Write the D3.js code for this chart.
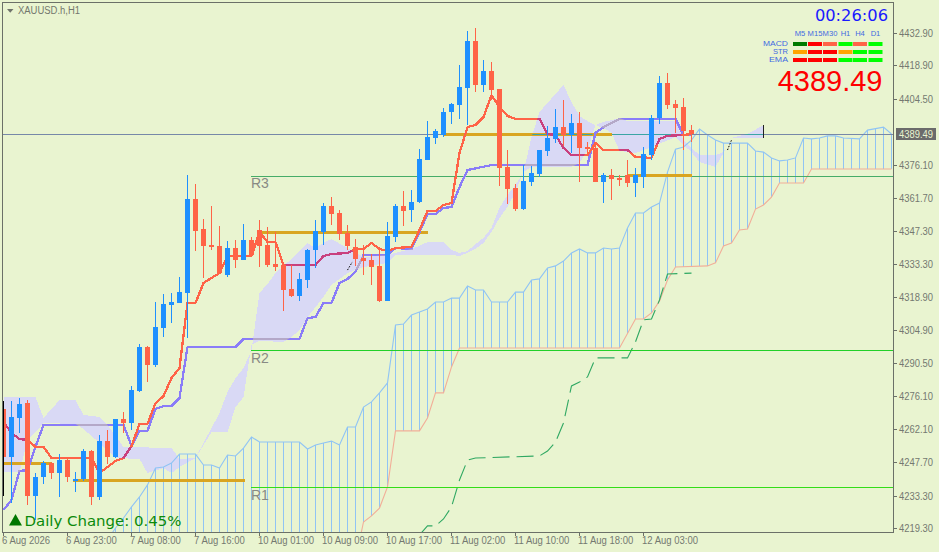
<!DOCTYPE html>
<html>
<head>
<meta charset="utf-8">
<script src="https://cdn.jsdelivr.net/npm/d3@7/dist/d3.min.js"></script>
<style>
html,body{margin:0;padding:0;background:#e9f4d0;overflow:hidden}
svg{display:block}
text{font-family:"Liberation Sans",Arial,sans-serif}
</style>
</head>
<body>
<svg id="c" width="939" height="552"></svg>
<script>
// ---- candles: [open, high, low, close], one per hourly bar ----
const candles = [
[4270.7,4274.1,4233.1,4249.9],[4249.9,4274.1,4230.1,4267.2],[4266.8,4275.4,4260.3,4272.8],[4273.2,4274.5,4229.2,4233.1],
[4233.1,4243.0,4222.8,4241.3],[4241.3,4248.2,4238.3,4247.3],[4247.3,4247.8,4240.5,4243.0],[4243.0,4251.2,4232.7,4248.6],
[4248.6,4249.5,4239.2,4241.3],[4239.6,4243.5,4234.8,4240.5],[4240.5,4253.4,4239.6,4252.5],[4252.5,4252.9,4229.2,4232.7],
[4232.7,4259.4,4231.4,4256.8],[4256.8,4261.6,4246.9,4249.9],[4249.9,4266.3,4249.5,4266.3],[4266.3,4269.4,4260.3,4264.6],
[4264.6,4280.6,4261.6,4278.9],[4278.4,4298.7,4278.0,4297.4],[4297.4,4297.8,4282.3,4289.6],[4289.6,4316.8,4288.8,4306.0],
[4305.6,4320.3,4301.7,4316.0],[4315.5,4320.7,4307.8,4316.8],[4316.4,4327.6,4316.4,4321.1],[4320.7,4371.6,4301.3,4361.3],
[4361.3,4367.7,4338.8,4347.5],[4348.3,4352.6,4327.2,4341.0],[4341.4,4358.2,4339.3,4340.6],[4341.0,4349.6,4329.3,4329.3],
[4328.5,4343.1,4327.6,4340.1],[4340.1,4343.6,4331.5,4334.9],[4334.9,4350.5,4334.9,4343.6],[4343.6,4344.9,4336.2,4337.1],
[4347.9,4352.2,4331.9,4341.0],[4341.4,4349.2,4331.9,4332.8],[4333.2,4347.0,4330.2,4331.9],[4332.8,4334.1,4312.9,4322.0],
[4322.4,4332.8,4319.0,4319.4],[4319.4,4329.3,4317.2,4326.8],[4326.3,4339.7,4322.9,4339.3],[4339.3,4352.2,4331.5,4347.5],
[4347.0,4359.5,4341.4,4358.2],[4358.2,4362.1,4350.0,4354.8],[4355.2,4356.5,4343.6,4346.2],[4346.6,4350.0,4339.3,4341.0],
[4340.6,4344.0,4332.4,4335.4],[4335.8,4341.4,4328.5,4334.5],[4334.9,4337.5,4324.2,4331.9],[4332.4,4340.6,4316.8,4317.2],
[4317.2,4351.3,4317.2,4345.3],[4344.9,4359.1,4342.7,4358.2],[4358.2,4364.7,4349.6,4356.1],[4356.5,4365.1,4351.3,4360.0],
[4360.0,4382.8,4359.5,4378.5],[4378.1,4394.9,4378.1,4388.0],[4387.6,4391.5,4385.0,4390.6],[4388.9,4400.5,4388.0,4398.8],
[4398.8,4402.7,4393.6,4402.3],[4401.8,4419.1,4395.8,4409.6],[4409.2,4433.8,4393.2,4429.4],[4429.4,4435.1,4407.4,4410.5],
[4410.5,4421.2,4407.4,4416.5],[4416.5,4420.4,4404.0,4408.3],[4408.7,4408.7,4366.9,4374.6],[4375.1,4382.4,4359.1,4365.6],
[4366.0,4367.7,4356.1,4356.9],[4356.9,4375.9,4356.5,4369.0],[4368.6,4375.5,4366.9,4372.5],[4372.0,4382.4,4370.8,4382.4],
[4382.0,4392.8,4379.8,4387.6],[4387.2,4400.1,4385.4,4392.3],[4392.3,4404.0,4384.1,4388.9],[4388.9,4397.9,4381.1,4394.1],
[4394.1,4398.8,4368.6,4383.3],[4383.7,4385.9,4380.2,4382.8],[4383.3,4385.9,4368.6,4368.6],[4368.6,4372.5,4359.5,4371.6],
[4371.6,4374.2,4360.8,4369.9],[4370.3,4371.6,4366.9,4369.5],[4371.6,4378.1,4366.4,4368.2],[4368.2,4374.6,4362.1,4371.6],
[4370.8,4383.7,4366.0,4380.7],[4380.2,4397.5,4378.1,4396.2],[4396.2,4414.4,4393.6,4411.3],[4411.3,4415.6,4400.1,4401.8],
[4402.3,4404.0,4389.8,4400.5],[4401.0,4404.9,4382.4,4390.6],[4391.0,4393.2,4385.9,4389.3]
];
// ---- indicator series: [bar number, price] ----
const fastLine = [[0,4265.0],[1,4260.3],[2,4257.7],[3,4257.3],[4,4254.3],[5,4254.3],[6,4249.5],[11,4249.5],[12,4243.0],[13,4245.6],[14,4248.2],[15,4249.5],[16,4254.7],[17,4264.2],[18,4264.2],[19,4273.2],[20,4276.2],[21,4284.0],[22,4288.3],[23,4316.4],[24,4316.4],[25,4325.0],[26,4327.2],[27,4329.3],[28,4336.7],[31,4336.7],[32,4347.0],[33,4342.7],[34,4342.7],[35,4332.8],[39,4332.8],[40,4336.7],[41,4337.5],[43,4338.0],[44,4339.7],[45,4339.7],[46,4342.3],[47,4339.7],[48,4338.8],[49,4340.1],[51,4340.6],[52,4347.9],[53,4356.1],[54,4356.1],[55,4358.7],[56,4359.5],[57,4381.1],[58,4392.3],[59,4393.2],[60,4396.6],[61,4406.1],[62,4401.0],[63,4397.1],[64,4395.8],[67,4395.8],[68,4389.3],[69,4388.9],[70,4383.3],[71,4380.2],[73,4380.2],[74,4385.4],[75,4382.4],[78,4382.4],[79,4379.4],[81,4379.0],[82,4387.2],[83,4388.5],[85,4388.9],[86,4389.3]];
const slowLine = [[0,4227.1],[1,4231.4],[2,4243.9],[3,4244.3],[4,4254.3],[5,4263.8],[15,4263.8],[16,4254.7],[17,4261.2],[18,4261.2],[19,4270.7],[20,4271.9],[21,4271.9],[22,4275.4],[23,4297.4],[29,4297.4],[30,4300.9],[37,4300.9],[38,4309.9],[39,4310.3],[40,4316.4],[41,4316.4],[42,4325.0],[43,4326.8],[44,4329.8],[45,4337.1],[48,4337.1],[49,4340.1],[51,4339.7],[52,4347.0],[53,4354.8],[54,4354.8],[55,4357.4],[56,4357.8],[57,4366.4],[58,4373.8],[61,4375.9],[73,4375.9],[74,4389.8],[75,4392.3],[77,4395.8],[84,4395.8],[85,4388.9],[86,4388.9]];
const bandUpper = [[0,4275.8],[4,4275.8],[5,4266.8],[7,4274.5],[9,4274.5],[10,4268.1],[12,4267.2],[13,4263.8],[15,4254.3],[21,4253.8],[22,4249.1],[24,4249.5],[25,4256.0],[27,4268.9],[28,4278.0],[29,4284.0],[30,4288.3],[31,4296.1],[32,4320.7],[33,4324.6],[34,4329.3],[35,4332.4],[36,4335.4],[37,4338.8],[38,4342.3],[39,4340.1],[40,4342.3],[41,4344.0],[43,4340.1],[45,4336.2],[48,4337.1],[49,4338.0],[51,4339.7],[52,4341.0],[53,4342.7],[55,4342.7],[56,4339.3],[57,4338.0],[58,4338.8],[59,4341.8],[60,4344.5],[61,4348.8],[62,4357.4],[63,4363.0],[64,4367.3],[65,4372.9],[66,4388.0],[67,4398.8],[70,4410.5],[71,4403.1],[72,4397.1],[73,4394.9],[74,4393.2],[75,4394.5],[77,4396.2],[78,4394.9],[84,4394.9],[85,4386.7],[86,4383.3],[87,4380.2],[89,4380.2],[90,4381.5],[91,4387.6],[92,4388.5],[93,4389.3],[95,4393.2]];
const bandLower = [[0,4243.5],[2,4243.5],[3,4257.3],[4,4260.7],[5,4264.6],[9,4264.2],[10,4262.0],[12,4256.0],[14,4249.5],[17,4249.1],[18,4243.0],[20,4245.2],[21,4243.0],[22,4245.6],[24,4249.5],[26,4260.7],[28,4260.7],[29,4271.5],[30,4275.8],[31,4298.3],[32,4300.0],[35,4299.6],[36,4301.7],[37,4304.7],[38,4310.3],[40,4319.0],[41,4324.2],[43,4329.3],[45,4331.9],[48,4333.7],[49,4337.1],[56,4337.1],[57,4336.7],[58,4338.0],[59,4339.7],[60,4342.3],[61,4347.0],[62,4353.1],[63,4357.8],[64,4364.3],[65,4372.9],[66,4375.1],[71,4375.1],[72,4376.8],[73,4382.4],[74,4393.2],[75,4391.9],[76,4389.8],[77,4382.0],[79,4381.1],[81,4383.7],[84,4388.0],[85,4384.6],[86,4381.5],[87,4377.2],[89,4375.1],[90,4381.1],[91,4387.6],[95,4387.6]];
const hatchUpper = [[13,4214.1],[14,4219.3],[15,4223.6],[16,4228.4],[17,4232.7],[18,4237.9],[19,4245.2],[20,4245.6],[21,4247.3],[22,4251.2],[24,4251.2],[25,4246.5],[26,4246.5],[27,4245.2],[28,4250.8],[29,4250.4],[30,4253.8],[31,4258.6],[32,4256.4],[37,4256.4],[38,4253.4],[39,4255.1],[40,4256.0],[41,4256.8],[42,4255.1],[43,4262.9],[44,4262.9],[45,4271.5],[46,4273.7],[47,4277.6],[48,4281.9],[49,4306.9],[50,4307.3],[51,4311.2],[52,4312.5],[53,4313.8],[54,4316.8],[55,4316.8],[56,4318.5],[57,4318.5],[58,4323.7],[59,4322.0],[60,4322.0],[61,4316.8],[63,4316.8],[64,4321.1],[65,4321.1],[66,4326.3],[67,4326.8],[68,4331.5],[69,4332.4],[70,4334.5],[71,4338.0],[72,4339.7],[73,4338.0],[74,4338.0],[75,4340.1],[76,4339.7],[77,4340.1],[78,4348.8],[79,4355.2],[80,4355.2],[81,4357.8],[82,4359.5],[83,4372.9],[84,4382.8],[85,4383.7],[86,4386.7],[87,4391.5],[88,4388.9],[89,4386.7],[90,4385.4],[93,4385.4],[94,4382.0],[95,4381.5],[96,4379.0],[97,4377.7],[98,4378.1],[99,4379.0],[100,4387.6],[101,4387.2],[102,4387.6],[103,4388.5],[104,4388.5],[105,4387.6],[107,4387.2],[108,4391.0],[110,4392.3],[111,4389.3]];
const hatchLower = [[13,4205.5],[44,4205.5],[45,4221.9],[46,4224.5],[47,4227.9],[48,4237.0],[49,4261.2],[52,4261.2],[53,4266.8],[54,4277.6],[55,4277.6],[56,4288.8],[57,4297.0],[77,4297.0],[79,4309.5],[80,4309.5],[81,4312.1],[82,4317.2],[83,4326.3],[84,4331.9],[88,4332.4],[89,4333.7],[90,4341.0],[91,4342.3],[92,4347.9],[93,4348.3],[94,4356.9],[95,4358.7],[96,4362.1],[97,4368.2],[100,4368.2],[101,4374.2],[111,4374.2]];
const laggingLine = [[52,4216.3],[53,4220.2],[54,4220.2],[55,4223.2],[56,4228.4],[57,4240.0],[58,4248.6],[59,4249.5],[67,4250.4],[68,4252.5],[69,4256.4],[70,4264.6],[71,4280.6],[72,4282.3],[73,4284.5],[74,4292.7],[78,4292.7],[79,4299.6],[80,4309.1],[81,4309.5],[82,4317.7],[83,4328.9],[86,4329.3]];
const blackSpecks = [[[43,4330.6],[43.6,4334.1]],[[90.5,4382.4],[91,4386.7]]];
// gold segments: [first bar, last bar, price]
const goldLevels = [[0,5.9,4247.3],[8.7,30.2,4240.0],[32,53,4347.0],[55,76,4389.3],[78,86,4371.6]];
const pivotNames = ["R3","R2","R1"];
const pivotPrices = [4371.4,4295.9,4236.8];
const currentPrice = 4389.49;
const priceTicks = [4432.90,4418.90,4404.50,4376.10,4361.70,4347.30,4333.30,4318.90,4304.90,4290.50,4276.10,4262.10,4247.70,4233.30,4219.30];
const timeLabels = ["6 Aug 2026","6 Aug 23:00","7 Aug 08:00","7 Aug 16:00","10 Aug 01:00","10 Aug 09:00","10 Aug 17:00","11 Aug 02:00","11 Aug 10:00","11 Aug 18:00","12 Aug 03:00"];
const panelFrames = ["M5","M15","M30","H1","H4","D1"];
const panelRows = ["MACD","STR","EMA"];
const panelStates = [
 ["darkup","down","weakdown","up","weakdown","up"],
 ["flat","down","down","flat","up","up"],
 ["down","down","down","up","up","up"]];
const symbolTitle = "XAUUSD.h,H1";
const countdown = "00:26:06";
const dailyChange = "Daily Change: 0.45%";

// ---- layout ----
const BG="#e9f4d0", FRAME="#6b7068", TICK="#747970";
const L=2.5, R=893.5, T=2.5, B=532.5;
const x=d3.scaleLinear().domain([0,1]).range([3.5,11.5]);
const y=d3.scaleLinear().domain([4432.9,4219.3]).range([33,528]);
const svg=d3.select("#c");
const defs=svg.append("defs");
defs.append("clipPath").attr("id","plot").append("rect").attr("x",3).attr("y",3).attr("width",890).attr("height",529);
const line=d3.line().x(d=>x(d[0])).y(d=>y(d[1]));
const bandPath=line(bandUpper.concat(bandLower.slice().reverse()))+"Z";
defs.append("clipPath").attr("id","band").append("path").attr("d",bandPath);
// squeeze a text to the width that the reference shows
function squeeze(sel,k){sel.each(function(){const w=this.getComputedTextLength();this.setAttribute("textLength",(w*k).toFixed(1));this.setAttribute("lengthAdjust","spacingAndGlyphs");});}

const plot=svg.append("g").attr("clip-path","url(#plot)");
// cloud
plot.append("path").attr("d",bandPath).attr("fill","#d9d9f5").attr("shape-rendering","crispEdges");
// hatch
const hU=d3.scaleLinear().domain(hatchUpper.map(d=>d[0])).range(hatchUpper.map(d=>d[1]));
const hL=d3.scaleLinear().domain(hatchLower.map(d=>d[0])).range(hatchLower.map(d=>d[1]));
plot.append("g").selectAll("line").data(d3.range(14,112)).join("line")
 .attr("x1",d=>x(d)).attr("x2",d=>x(d)).attr("y1",d=>y(hU(d))).attr("y2",d=>y(hL(d)))
 .attr("stroke","#90c4f4").attr("stroke-width",1).attr("shape-rendering","crispEdges");
plot.append("path").attr("d",line(hatchLower)).attr("fill","none").attr("stroke","#f2ae98").attr("stroke-width",1.1);
plot.append("path").attr("d",line(hatchUpper)).attr("fill","none").attr("stroke","#90c4f4").attr("stroke-width",1.1);
// lagging dashed
plot.append("path").attr("d",line(laggingLine)).attr("fill","none").attr("stroke","#2fa862").attr("stroke-width",1.1).attr("stroke-dasharray","17 7");
// pivots
const pivotColors=["#46ac68","#22d028","#33dd18"];
pivotPrices.forEach((p,i)=>{
 plot.append("line").attr("x1",x(31)-0.5).attr("x2",R).attr("y1",Math.round(y(p))+.5).attr("y2",Math.round(y(p))+.5)
  .attr("stroke",pivotColors[i]).attr("stroke-width",1).attr("shape-rendering","crispEdges");
 plot.append("text").attr("x",251).attr("y",Math.round(y(p))+(i==0?12:13)).text(pivotNames[i]).attr("fill","#888a84").attr("font-size",14);
});
// current price
const cy=Math.round(y(currentPrice))+.5;
plot.append("line").attr("x1",L).attr("x2",R).attr("y1",cy).attr("y2",cy).attr("stroke","#7788a8").attr("shape-rendering","crispEdges");
// gold
plot.append("g").selectAll("line").data(goldLevels).join("line")
 .attr("x1",d=>x(d[0])).attr("x2",d=>x(d[1])).attr("y1",d=>y(d[2])).attr("y2",d=>y(d[2]))
 .attr("stroke","#d9a521").attr("stroke-width",3).attr("shape-rendering","crispEdges");
// current line tint inside the cloud
plot.append("g").attr("clip-path","url(#band)").append("line").attr("x1",L).attr("x2",R).attr("y1",cy).attr("y2",cy).attr("stroke","#3aa5a5").attr("shape-rendering","crispEdges");
// fast and slow lines + tint in cloud
function drawLine(series,col,tint){
 plot.append("path").attr("d",line(series)).attr("fill","none").attr("stroke",col).attr("stroke-width",2.3).attr("stroke-linejoin","round").attr("shape-rendering","crispEdges");
 plot.append("g").attr("clip-path","url(#band)").append("path").attr("d",line(series)).attr("fill","none").attr("stroke",tint).attr("stroke-width",2.3).attr("stroke-linejoin","round").attr("shape-rendering","crispEdges");
}
drawLine(slowLine,"#8a7cf8","#b4a8c8");
drawLine(fastLine,"#ff6347","#c9407e");
// black specks
plot.append("g").selectAll("path").data(blackSpecks).join("path").attr("d",line).attr("fill","none").attr("stroke","#000").attr("stroke-width",1).attr("stroke-dasharray","1.5 1.5");
plot.append("line").attr("x1",x(95)).attr("x2",x(95)).attr("y1",y(bandUpper[bandUpper.length-1][1])).attr("y2",y(bandLower[bandLower.length-1][1])).attr("stroke","#222").attr("shape-rendering","crispEdges");
// candles
const bars=plot.append("g").selectAll("g").data(candles).join("g");
const col=d=>d[3]>=d[0]?"#1e90ff":"#ff6347";
bars.append("line").attr("x1",(d,i)=>x(i)).attr("x2",(d,i)=>x(i)).attr("y1",d=>Math.round(y(d[1]))).attr("y2",d=>Math.round(y(d[2])))
 .attr("stroke",col).attr("shape-rendering","crispEdges");
bars.append("rect").attr("x",(d,i)=>x(i)-2.5).attr("width",5)
 .attr("y",d=>Math.round(y(Math.max(d[0],d[3])))).attr("height",d=>Math.max(1,Math.round(y(Math.min(d[0],d[3])))-Math.round(y(Math.max(d[0],d[3])))))
 .attr("fill",col).attr("shape-rendering","crispEdges");
plot.append("line").attr("x1",x(0)).attr("x2",x(0)).attr("y1",Math.round(y(candles[0][1]))).attr("y2",Math.round(y(candles[0][2]))).attr("stroke","#000").attr("shape-rendering","crispEdges");
// frame
svg.append("path").attr("d",`M${L},${B}V${T}H${R}V${B}H${L}`).attr("fill","none").attr("stroke",FRAME).attr("shape-rendering","crispEdges");
// price axis
const py=svg.append("g").selectAll("g").data(priceTicks).join("g").attr("transform",d=>`translate(0,${Math.round(y(d))+.5})`);
py.append("line").attr("x1",R).attr("x2",R+3).attr("stroke",FRAME).attr("shape-rendering","crispEdges");
py.append("text").attr("x",899).attr("y",3.5).text(d=>d.toFixed(2)).attr("font-size",10).attr("fill",TICK).attr("textLength",34).attr("lengthAdjust","spacingAndGlyphs");
// time axis
const tx=svg.append("g").selectAll("g").data(timeLabels).join("g").attr("transform",(d,i)=>`translate(${x(i*8)-0.5},0)`);
tx.append("line").attr("y1",B).attr("y2",B+3).attr("stroke",FRAME).attr("shape-rendering","crispEdges");
tx.append("text").attr("x",-1).attr("y",544).text(d=>d).attr("font-size",10).attr("fill",TICK).call(squeeze,0.95);
// current price box
svg.append("rect").attr("x",896).attr("y",cy-6.5).attr("width",40).attr("height",12).attr("fill","#6b6b6b");
svg.append("text").attr("x",899).attr("y",cy+3).text(currentPrice.toFixed(2)).attr("font-size",10).attr("fill",BG).attr("textLength",34).attr("lengthAdjust","spacingAndGlyphs");
// title
svg.append("path").attr("d","M7,9H13.5L10.2,12.8Z").attr("fill","#6f736a");
svg.append("text").attr("x",18).attr("y",14).text(symbolTitle).attr("font-size",10).attr("fill","#73776e").attr("textLength",62).attr("lengthAdjust","spacingAndGlyphs");
// panel
svg.append("text").attr("x",888).attr("y",21).attr("text-anchor","end").text(countdown).attr("font-size",16.3).attr("style","font-family:'DejaVu Sans'").attr("fill","#1a1aff");
const colX=[793,808,823,838.5,853,868.5];
panelFrames.forEach((f,i)=>svg.append("text").attr("x",colX[i]+7).attr("y",36).attr("text-anchor","middle").text(f).attr("font-size",7.6).attr("fill","#4169e1"));
const stateCol={darkup:"#007a00",down:"#ff0000",weakdown:"#ff6347",up:"#00ff00",flat:"#ffa500"};
const rowWidths=[25,15,19];
panelRows.forEach((r,j)=>{
 svg.append("text").attr("x",788).attr("y",46+j*8).attr("text-anchor","end").text(r).attr("font-size",7.1).attr("fill","#4169e1").attr("textLength",rowWidths[j]).attr("lengthAdjust","spacingAndGlyphs");
 panelStates[j].forEach((s,i)=>svg.append("rect").attr("x",colX[i]).attr("y",42+j*8).attr("width",14).attr("height",4).attr("fill",stateCol[s]));
});
svg.append("text").attr("x",882.5).attr("y",91).attr("text-anchor","end").text(currentPrice.toFixed(2)).attr("font-size",29).attr("fill","#ff0000");
// daily change
svg.append("path").attr("d","M9,525.5L15.5,514L22,525.5Z").attr("fill","#007700");
svg.append("text").attr("x",24.5).attr("y",526).text(dailyChange).attr("font-size",14.95).attr("style","font-family:'DejaVu Sans'").attr("fill","#0b8a0b");
</script>
</body>
</html>
